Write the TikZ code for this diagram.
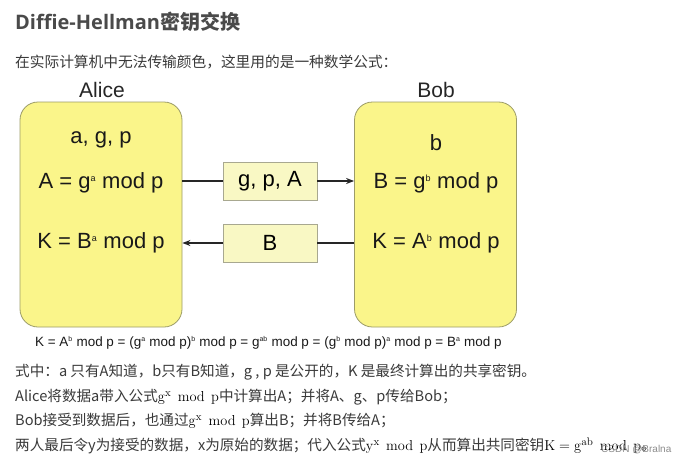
\documentclass[tikz,border=0pt]{standalone}
\usepackage[no-math]{fontspec}
\setmainfont{Liberation Sans}
\newfontfamily\cjk{Noto Sans CJK SC}
\newfontfamily\cjkb{Noto Sans CJK SC Bold}
\newfontfamily\titlelat{Open Sans}[BoldFont={* Bold}]
\newfontfamily\diag{Liberation Sans}
\usetikzlibrary{arrows.meta}
\definecolor{boxfill}{HTML}{FAF58A}
\definecolor{boxline}{HTML}{9C9C68}
\definecolor{msgfill}{HTML}{F9F8C4}
\definecolor{msgline}{HTML}{A8A890}
\definecolor{bodytext}{HTML}{3A3A3A}
\definecolor{titletext}{HTML}{4A4A4A}
\newcommand{\mathbigtxt}[1]{{\fontsize{15.5}{17}\selectfont\color{black}$#1$}}
\newcommand{\modsp}{\mkern8mu\mathrm{mod}\mkern8mu}
\newcommand{\dsup}[1]{\textsuperscript{\fontsize{9}{9}\selectfont #1}}
\newcommand{\ssup}[1]{\textsuperscript{\fontsize{7}{7}\selectfont #1}}
\begin{document}
\begin{tikzpicture}[x=1pt,y=-1pt,
  party/.style={draw=boxline,line width=0.8pt,fill=boxfill,rounded corners=18pt,minimum width=162pt,minimum height=225pt,inner sep=0pt},
  msg/.style={draw=msgline,line width=0.8pt,fill=msgfill,minimum width=94pt,minimum height=38pt,inner sep=0pt,font=\diag\fontsize{22}{26}\selectfont},
  dtext/.style={font=\diag\fontsize{22}{26}\selectfont,inner sep=0pt,text=black!90},
  plabel/.style={font=\diag\fontsize{21}{25}\selectfont,inner sep=0pt,text=black!85},
  bodyline/.style={anchor=west,inner sep=0pt,text=bodytext,font=\cjk\fontsize{14.6}{17}\selectfont},
  conn/.style={line width=1.3pt,black!85},
  tip/.style={-{Stealth[length=8pt,width=6pt]}}
]
\useasboundingbox (0,0) rectangle (693,463);
\fill[white] (0,0) rectangle (693,463);

% title and intro
\node[anchor=west,inner sep=0pt,text=titletext] (title) at (15,22)
  {\titlelat\bfseries\fontsize{20}{24}\selectfont Diffie-Hellman\cjkb 密钥交换};
\node[anchor=west,inner sep=0pt,text=bodytext,font=\cjk\fontsize{14.7}{17}\selectfont] (intro) at (15,62) {在实际计算机中无法传输颜色，这里用的是一种数学公式：};

% parties
\node[plabel] (alicelbl) at (102,90) {Alice};
\node[plabel] (boblbl) at (436,90) {Bob};
\node[party] (alice) at (101,214.5) {};
\node[party] (bob) at (435.5,214.5) {};

\node[dtext] (aknow) at (101,140) {a, g, p};
\node[dtext] (acalc) at (101,183) {A = g\dsup{a} mod p};
\node[dtext] (akey) at (101,243) {K = B\dsup{a} mod p};

\node[dtext] (bknow) at (436,143) {b};
\node[dtext] (bcalc) at (436,183) {B = g\dsup{b} mod p};
\node[dtext] (bkey) at (436,243) {K = A\dsup{b} mod p};

% messages
\node[msg] (m1) at (270,181) {g, p, A};
\node[msg] (m2) at (270,243) {B};
\draw[conn] (alice.east |- m1) -- (m1.west);
\draw[conn,tip] (m1.east) -- (bob.west |- m1);
\draw[conn] (bob.west |- m2) -- (m2.east);
\draw[conn,tip] (m2.west) -- (alice.east |- m2);

% formula
\node[anchor=west,inner sep=0pt,text=black!90,font=\diag\fontsize{13.45}{16}\selectfont] (formula) at (35,343)
  {K = A\ssup{b} mod p = (g\ssup{a} mod p)\ssup{b} mod p = g\ssup{ab} mod p = (g\ssup{b} mod p)\ssup{a} mod p = B\ssup{a} mod p};

% explanation
\node[bodyline] (l1) at (15,372) {式中：a 只有A知道，b只有B知道，g , p 是公开的，K 是最终计算出的共享密钥。};
\node[bodyline] (l2) at (15,397) {Alice将数据a带入公式\mathbigtxt{\mathrm{g^x}\modsp\mathrm{p}}中计算出A；并将A、g、p传给Bob；};
\node[bodyline] (l3) at (15,421) {Bob接受到数据后，也通过\mathbigtxt{\mathrm{g^x}\modsp\mathrm{p}}算出B；并将B传给A；};
\node[bodyline] (l4) at (15,446) {两人最后令y为接受的数据，x为原始的数据；代入公式\mathbigtxt{\mathrm{y^x}\modsp\mathrm{p}}从而算出共同密钥\mathbigtxt{\mathrm{K} = \mathrm{g^{ab}}\modsp\mathrm{p}}。};
\node[anchor=west,inner sep=0pt,text=black!45,font=\diag\fontsize{10}{12}\selectfont] (wm) at (601,450) {CSDN @Bralna};
\end{tikzpicture}
\end{document}
